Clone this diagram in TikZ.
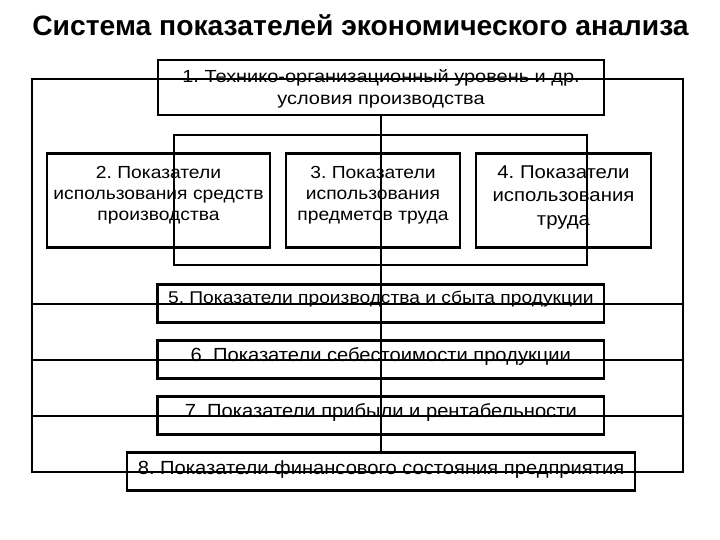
\documentclass[tikz,border=0pt]{standalone}
\usepackage{fontspec}
\setmainfont{Liberation Sans}
\newcommand\sx[1]{\scalebox{1.1}[1]{#1}}
\newcommand\sxa[1]{\scalebox{1.14}[1]{#1}}
\newcommand\sxw[1]{\scalebox{1.06}[1]{#1}}
\frenchspacing
\begin{document}
\begin{tikzpicture}[x=1bp,y=-1bp,
  box/.style={draw=black,line width=2.6bp,fill=white,inner sep=0pt},
  txt/.style={inner sep=0pt,align=center,font=\fontsize{17.5bp}{21bp}\selectfont},
  wtxt/.style={inner sep=0pt,anchor=base,font=\fontsize{19bp}{21bp}\selectfont},
  link/.style={draw=black,line width=2bp}]
\useasboundingbox[fill=white] (0,0) rectangle (720,540);
% title
\node[inner sep=0pt,font=\fontsize{28bp}{30bp}\selectfont\bfseries] (title) at (360.5,25) {\scalebox{1.01}[1]{Система показателей экономического анализа}};
% boxes
\node[box,minimum width=446bp,minimum height=55bp] (b1) at (381,87.5) {};
\node[box,minimum width=223bp,minimum height=94bp] (b2) at (158.5,200.3) {};
\node[box,minimum width=174bp,minimum height=94bp] (b3) at (373,200.3) {};
\node[box,minimum width=175bp,minimum height=94bp] (b4) at (563.5,200.3) {};
\node[box,minimum width=446bp,minimum height=38bp] (b5) at (380.8,303.7) {};
\node[box,minimum width=446bp,minimum height=38bp] (b6) at (380.8,359.7) {};
\node[box,minimum width=446bp,minimum height=38bp] (b7) at (380.8,415.6) {};
\node[box,minimum width=508bp,minimum height=38bp] (b8) at (381,471.7) {};
% texts
\node[txt,font=\fontsize{17.5bp}{22bp}\selectfont] (t1) at ([yshift=-1bp]b1.center) {\sxa{1. Технико-организационный уровень и др.}\\\sxa{условия производства}};
\node[txt] (t2) at ([yshift=5bp]b2.center) {\sx{2. Показатели}\\\sx{использования средств}\\\sx{производства}};
\node[txt] (t3) at ([yshift=5bp]b3.center) {\sx{3. Показатели}\\\sx{использования}\\\sx{предметов труда}};
\node[txt,font=\fontsize{18.5bp}{23.5bp}\selectfont] (t4) at ([yshift=3bp]b4.center) {\sx{4. Показатели}\\\sx{использования}\\\sx{труда}};
\node[wtxt,font=\fontsize{17bp}{21bp}\selectfont] (t5) at (b5.center) {\scalebox{1.13}[1]{5. Показатели производства и сбыта продукции}};
\node[wtxt] (t6) at ([yshift=-2bp]b6.center) {\sxw{6. Показатели себестоимости продукции}};
\node[wtxt] (t7) at ([yshift=-2bp]b7.center) {\sxw{7. Показатели прибыли и рентабельности}};
\node[wtxt] (t8) at ([yshift=-2.5bp]b8.center) {\sxw{8. Показатели финансового состояния предприятия}};
% frame coordinates
\coordinate (oTL) at (32,79);
\coordinate (oR) at (683,79);
\coordinate (iTL) at (174,135);
\coordinate (iBR) at (587,265);
% connectors
\draw[link] (oTL) rectangle (b8.center -| oR);
\draw[link] (iTL) rectangle (iBR);
\draw[link] (b1.south) -- (b8.north);
\draw[link] (b5.center -| oTL) -- (b5.center -| oR);
\draw[link] (b6.center -| oTL) -- (b6.center -| oR);
\draw[link] (b7.center -| oTL) -- (b7.center -| oR);
\end{tikzpicture}
\end{document}
